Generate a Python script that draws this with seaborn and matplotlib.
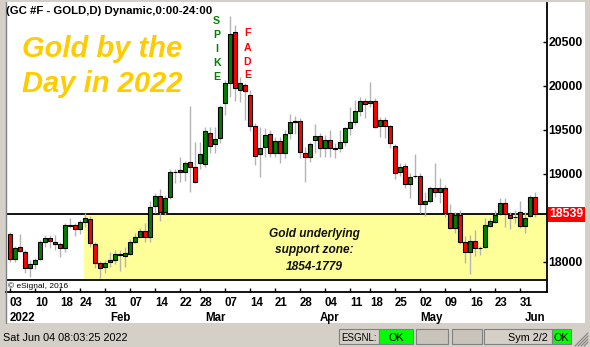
import numpy as np
import pandas as pd
import matplotlib
matplotlib.use("Agg")
import matplotlib.pyplot as plt
import matplotlib.transforms as mtransforms
from matplotlib.patches import Rectangle
from matplotlib.lines import Line2D
import seaborn as sns

# ---------------- data ----------------
holidays = ["2022-01-17", "2022-02-21", "2022-04-15", "2022-05-30"]
dates = pd.bdate_range("2022-01-03", "2022-06-03")
dates = dates[~dates.isin(pd.to_datetime(holidays))]

opens = [18311, 18027, 18163, 18114, 17925, 17978, 18027, 18228, 18266, 18228,
         18197, 18152, 18410, 18413, 18368, 18455, 18485, 18201, 17981, 17943,
         17995, 18019, 18085, 18064, 18091, 18227, 18284, 18348, 18284, 18636,
         18746, 18568, 18738, 19020, 19045, 19023, 19133, 19072, 19125, 19106,
         19458, 19333, 19402, 19799, 20027, 20606, 19951, 20004, 19894, 19542,
         19220, 19299, 19447, 19239, 19372, 19232, 19459, 19590, 19595, 19232,
         19194, 19383, 19429, 19289, 19383, 19290, 19296, 19357, 19516, 19592,
         19717, 19827, 19803, 19826, 19546, 19610, 19538, 19319, 19016, 19088,
         18883, 18970, 18974, 18652, 18694, 18841, 18788, 18841, 18550, 18379,
         18531, 18220, 18114, 18239, 18160, 18171, 18410, 18455, 18538, 18663,
         18531, 18512, 18569, 18409, 18519, 18731]
highs = [18341, 18178, 18311, 18133, 18019, 18038, 18247, 18303, 18303, 18303,
         18228, 18436, 18493, 18436, 18474, 18558, 18523, 18228, 18011, 18019,
         18110, 18133, 18133, 18170, 18254, 18322, 18379, 18435, 18689, 18776,
         18822, 18758, 19049, 19053, 19193, 19148, 19769, 19364, 19364, 19527,
         19527, 19527, 19780, 20065, 20792, 20690, 20102, 20034, 19951, 19572,
         19534, 19515, 19496, 19421, 19421, 19497, 19675, 19656, 19629, 19308,
         19364, 19561, 19459, 19440, 19497, 19345, 19497, 19535, 19762, 19838,
         19868, 19864, 20045, 19856, 19648, 19648, 19553, 19334, 19118, 19118,
         19004, 19220, 19004, 18796, 18860, 19118, 18947, 18872, 18652, 18568,
         18587, 18292, 18303, 18360, 18178, 18493, 18493, 18587, 18720, 18720,
         18568, 18587, 18690, 18568, 18758, 18788]
lows = [18000, 18000, 18114, 17868, 17830, 17917, 18020, 18171, 18152, 18133,
        18057, 18114, 18379, 18296, 18311, 18398, 18171, 17925, 17815, 17875,
        17943, 17970, 17898, 17935, 18076, 18216, 18277, 18227, 18227, 18550,
        18466, 18530, 18716, 18898, 18909, 18920, 18795, 18890, 19050, 19080,
        19231, 19239, 19345, 19667, 19875, 19830, 19818, 19610, 19480, 19099,
        18966, 19193, 19193, 19193, 19118, 19175, 19391, 19448, 19175, 18902,
        19137, 19239, 19194, 19194, 19194, 19175, 19243, 19319, 19440, 19554,
        19660, 19637, 19762, 19520, 19421, 19402, 19288, 18936, 18974, 18834,
        18728, 18947, 18557, 18519, 18663, 18739, 18663, 18512, 18372, 18322,
        18200, 17989, 17860, 18065, 18076, 18160, 18398, 18436, 18530, 18398,
        18368, 18436, 18379, 18322, 18512, 18512]
closes = [18027, 18152, 18125, 17925, 17974, 18016, 18220, 18266, 18239, 18197,
          18152, 18413, 18415, 18375, 18447, 18493, 18209, 17981, 17924, 17981,
          18015, 18083, 18078, 18095, 18220, 18280, 18348, 18284, 18617, 18746,
          18568, 18723, 19023, 19025, 19015, 19118, 19072, 18909, 19220, 19485,
          19318, 19390, 19754, 20027, 20583, 19970, 20027, 19936, 19542, 19205,
          19296, 19440, 19231, 19371, 19232, 19448, 19584, 19595, 19243, 19194,
          19334, 19429, 19296, 19383, 19289, 19285, 19357, 19516, 19584, 19713,
          19827, 19789, 19826, 19534, 19610, 19546, 19345, 19004, 19080, 18879,
          18959, 18974, 18652, 18690, 18834, 18788, 18834, 18557, 18387, 18531,
          18228, 18114, 18235, 18152, 18155, 18417, 18462, 18531, 18663, 18538,
          18500, 18508, 18409, 18500, 18731, 18539]

day_tick_dates = ["2022-01-03", "2022-01-10", "2022-01-18", "2022-01-24", "2022-01-31",
                  "2022-02-07", "2022-02-14", "2022-02-22", "2022-02-28", "2022-03-07",
                  "2022-03-14", "2022-03-21", "2022-03-28", "2022-04-04", "2022-04-11",
                  "2022-04-18", "2022-04-25", "2022-05-02", "2022-05-09", "2022-05-16",
                  "2022-05-23", "2022-05-31"]
day_tick_labels = ["03", "10", "18", "24", "31", "07", "14", "22", "28", "07", "14",
                   "21", "28", "04", "11", "18", "25", "02", "09", "16", "23", "31"]
month_dates = ["2022-01-03", "2022-02-01", "2022-03-01", "2022-04-01", "2022-05-02", "2022-06-01"]
month_labels = ["2022", "Feb", "Mar", "Apr", "May", "Jun"]
price_ticks = [18000, 19000, 19500, 20000, 20500]
last_price = 18539
zone_top, zone_bottom = 18539, 17790
zone_start_date = "2022-01-24"

df = pd.DataFrame({"date": dates, "open": opens, "high": highs,
                   "low": lows, "close": closes})
df["x"] = np.arange(len(df))
pos = {d: i for i, d in enumerate(df["date"].dt.strftime("%Y-%m-%d"))}

# ---------------- style ----------------
sns.set_theme(style="white")
plt.rcParams["font.family"] = ["Liberation Sans", "DejaVu Sans"]

W, H = 590, 347
fig = plt.figure(figsize=(W / 100, H / 100), dpi=100)
fig.patch.set_facecolor("#d4d0c8")


def fx(px):
    return px / W


def fy(py):
    return 1 - py / H


def frect(x0, y0, x1, y1, **kw):
    r = Rectangle((fx(x0), fy(y1)), fx(x1) - fx(x0), fy(y0) - fy(y1),
                  transform=fig.transFigure, **kw)
    fig.patches.append(r)
    return r


# white chart panel
frect(6, 2, 585, 323, facecolor="white", edgecolor="none", zorder=-1)
fig.lines.append(Line2D([fx(5.5), fx(5.5)], [fy(2), fy(323)], transform=fig.transFigure,
                        color="#808080", lw=1))

ax = fig.add_axes([fx(6), fy(292), fx(547) - fx(6), fy(3) - fy(292)])
ax.set_facecolor("white")

# support zone
zs = pos[zone_start_date] + 0.8
ax.fill_between([zs, 108], zone_bottom, zone_top, color="#ffff99", lw=0, zorder=0.5)
ax.axhline(zone_top, color="black", lw=1.3, zorder=1)
ax.axhline(zone_bottom, color="black", lw=1.3, zorder=1)

# candles
up = df["close"] >= df["open"]
ax.vlines(df["x"], df["low"], df["high"], color="#b4b4b4", lw=1, zorder=2)
ax.bar(df["x"][up], (df["close"] - df["open"])[up], bottom=df["open"][up], width=0.7,
       color="#008000", edgecolor="black", linewidth=0.8, zorder=3)
ax.bar(df["x"][~up], (df["open"] - df["close"])[~up], bottom=df["close"][~up], width=0.7,
       color="#ff0000", edgecolor="black", linewidth=0.8, zorder=3)

ax.set_xlim(-0.8, 107.4)
ax.set_ylim(17656, 20940)

# spines
ax.spines["top"].set_visible(False)
ax.spines["left"].set_visible(False)
for s in ("right", "bottom"):
    ax.spines[s].set_color("black")
    ax.spines[s].set_linewidth(1.3)

# y axis (right)
ax.yaxis.tick_right()
ax.set_yticks(price_ticks)
ax.set_yticklabels([str(v) for v in price_ticks], fontsize=8.8, fontweight="bold")
ax.tick_params(axis="y", direction="in", length=3, width=1, pad=1.2, colors="black",
               right=True, left=False)

# x axis
ax.set_xticks([pos[d] for d in day_tick_dates])
ax.set_xticklabels(day_tick_labels, ha="left", fontsize=8.3, fontweight="bold")
ax.tick_params(axis="x", direction="in", length=3, width=1, pad=3.4, colors="black",
               bottom=True)
xtr = ax.get_xaxis_transform()
for d, lab in zip(month_dates, month_labels):
    ax.text(pos[d], -(321 - 292) / 289, lab, transform=xtr, ha="left", va="baseline",
            fontsize=8.3, fontweight="bold", color="black")

# last price box
btr = mtransforms.blended_transform_factory(ax.transAxes, ax.transData)
ax.text(1.0 + 2 / 541, last_price, str(last_price), transform=btr, ha="left", va="center",
        fontsize=8.8, fontweight="bold", color="white", clip_on=False, zorder=5,
        bbox=dict(boxstyle="square,pad=0.12", facecolor="#ff0000", edgecolor="none"))

# copyright
ax.text(-0.4, 17724, "\u00a9 eSignal, 2016", fontsize=6, color="black", va="center", ha="left")

# texts
fig.text(fx(6), fy(14), "(GC #F - GOLD,D) Dynamic,0:00-24:00", fontsize=8.2,
         fontweight="bold", color="black", ha="left", va="baseline")
gold = "#ffcc00"
fig.text(fx(22), fy(57.3), "Gold by the", fontsize=21, fontweight="bold", style="italic",
         color=gold, ha="left", va="baseline")
fig.text(fx(22), fy(91.7), "Day in 2022", fontsize=21, fontweight="bold", style="italic",
         color=gold, ha="left", va="baseline")
for ch, yb in zip("SPIKE", [24.3, 37.7, 51.7, 66, 80]):
    fig.text(fx(216.7), fy(yb), ch, fontsize=7.6, fontweight="bold", color="#008000",
             ha="center", va="baseline")
for ch, yb in zip("FADE", [36, 50.7, 65, 78]):
    fig.text(fx(247.3), fy(yb), ch, fontsize=7.6, fontweight="bold", color="#ff0000",
             ha="center", va="baseline")
for line, yb in zip(["Gold underlying", "support zone:", "1854-1779"], [237.5, 253.5, 269.5]):
    fig.text(fx(314.5), fy(yb), line, fontsize=8.6, fontweight="bold", style="italic",
             color="#111111", ha="center", va="baseline")

# status bar
fig.text(fx(3), fy(341), "Sat Jun 04 08:03:25 2022", fontsize=7.8, color="black",
         ha="left", va="baseline")
boxes = [(339, 379, "#d4d0c8"), (379, 413, "#00ff00"), (416, 448, "#c8c4bc"),
         (452, 482, "#c8c4bc"), (484, 552, "#d4d0c8"), (552, 571, "#00ff00")]
for x0, x1, c in boxes:
    frect(x0, 329, x1, 344, facecolor=c, edgecolor="#808080", lw=0.8, zorder=1)
fig.text(fx(341), fy(341), "ESGNL:", fontsize=7.0, color="black", ha="left", va="baseline")
fig.text(fx(396), fy(341), "OK", fontsize=7.8, color="black", ha="center", va="baseline")
fig.text(fx(548), fy(341), "Sym 2/2", fontsize=7.8, color="black", ha="right", va="baseline")
fig.text(fx(561.5), fy(341), "OK", fontsize=7.8, color="black", ha="center", va="baseline")
for k in range(4):
    off = 3 * k
    fig.lines.append(Line2D([fx(575 + off), fx(588)], [fy(346), fy(333 + off)],
                            transform=fig.transFigure, color="#808080", lw=0.8))

fig.savefig("out.png", dpi=100, facecolor=fig.get_facecolor())
